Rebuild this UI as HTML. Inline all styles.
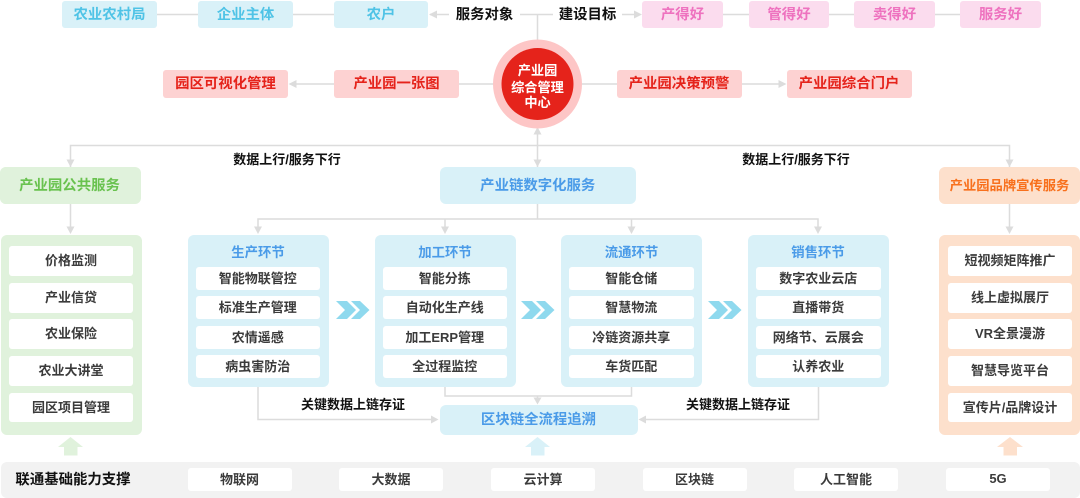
<!DOCTYPE html>
<html lang="zh">
<head>
<meta charset="utf-8">
<title>产业园综合管理中心</title>
<style>
html,body{margin:0;padding:0;background:#fff}
#p{position:relative;width:1080px;height:498px;overflow:hidden;background:#fff;font-family:"Liberation Sans","Noto Sans CJK SC",sans-serif;font-weight:700}
#p div{position:absolute;display:flex;align-items:center;justify-content:center;white-space:nowrap;box-sizing:border-box;padding-bottom:2px}
svg{position:absolute;left:0;top:0}
.c{background:#d9f1f8;color:#4fc3e6;font-size:14.4px;border-radius:3px;top:1px;height:27px}
.k{background:#fbdcee;color:#ee72bf;font-size:14.4px;border-radius:3px;top:1px;height:27px}
.r{background:#fdd2d2;color:#e5231b;font-size:14.4px;border-radius:3px;top:69.5px;height:28px;width:125px}
.l{color:#111;font-size:14.4px}
.m{color:#111;font-size:13px}
.h{top:167px;height:37px;border-radius:6px;font-size:14.4px}
.g{background:#e0f2dc}
.o{background:#fde0cc}
.s{background:#d9f1f8}
.w{background:#fff;color:#3b3b3b;font-size:13px;border-radius:3px}
.a{width:124px;height:29.5px}
.i{width:124.5px;height:22.5px}
.t{color:#4a9be8;font-size:13.4px;top:242px;height:19px;width:141px}
.f{top:467.5px;height:23px;width:104px;font-size:13px;background:#fff;color:#3b3b3b;border-radius:3px}
</style>
</head>
<body>
<div id="p">
<svg width="1080" height="498" viewBox="0 0 1080 498">
<g fill="none" stroke="#dcdcdc" stroke-width="1.5">
<path d="M157 14.5H198M293 14.5H334M430 14.5H449M520 14.5H553M622 14.5H635M723 14.5H749M829 14.5H854M935 14.5H960"/>
<path d="M537.5 14.5V40"/>
<path d="M296 84H334M459 84H494M582 84H617M741 84H780"/>
<path d="M70.5 167V145.5H1009.5V167M537.5 128V167"/>
<path d="M70.5 204V228M1009.5 204V228"/>
<path d="M537.5 204V219M258 228V219H818V228M445 219V228M631.5 219V228"/>
<path d="M258 387V419.5H432M818.5 387V419.5H646"/>
<path d="M445 387V396H631.5V387M537.5 396V399"/>
</g>
<g fill="#dcdcdc">
<path d="M429 14.5L437 10.5V18.5Z"/>
<path d="M642 14.5L634 10.5V18.5Z"/>
<path d="M288.5 84L296.5 80V88Z"/>
<path d="M786.5 84L778.5 80V88Z"/>
<path d="M70.5 167L66.5 159.5H74.5Z"/>
<path d="M1009.5 167L1005.5 159.5H1013.5Z"/>
<path d="M537.5 167L533.5 159.5H541.5Z"/>
<path d="M537.5 127L533.5 134.5H541.5Z"/>
<path d="M70.5 234L66.5 226.5H74.5Z"/>
<path d="M1009.5 234L1005.5 226.5H1013.5Z"/>
<path d="M258 234L254 226.5H262Z"/>
<path d="M445 234L441 226.5H449Z"/>
<path d="M631.5 234L627.5 226.5H635.5Z"/>
<path d="M818 234L814 226.5H822Z"/>
<path d="M438.5 419.5L431 415.5V423.5Z"/>
<path d="M638.5 419.5L646 415.5V423.5Z"/>
<path d="M537.5 404.5L533.5 397.5H541.5Z"/>
</g>
<circle cx="537.5" cy="84" r="44.5" fill="#fdc6c6"/>
<circle cx="537.5" cy="84" r="36" fill="#e5231b"/>
<g fill="#8fd9ee">
<path d="M336 301H347L356 310L347 319H336L345 310Z"/>
<path d="M351 301H360L369.5 310L360 319H351L360 310Z"/>
<path d="M521 301H532L541 310L532 319H521L530 310Z"/>
<path d="M536 301H545L554.5 310L545 319H536L545 310Z"/>
<path d="M708 301H719L728 310L719 319H708L717 310Z"/>
<path d="M723 301H732L741.5 310L732 319H723L732 310Z"/>
</g>
<path d="M70.5 437L83 447H77.5V455.5H64V447H58Z" fill="#e0f2dc"/>
<path d="M537.5 437L550 447H544.5V455.5H531V447H525Z" fill="#d9f1f8"/>
<path d="M1010 437L1023 447H1017V455.5H1003.5V447H997Z" fill="#fde0cc"/>
</svg>

<div class="c" style="left:62px;width:95px">农业农村局</div>
<div class="c" style="left:198px;width:95px">企业主体</div>
<div class="c" style="left:334px;width:94px">农户</div>
<div class="l" style="left:449px;top:4px;width:71px;height:20px">服务对象</div>
<div class="l" style="left:553px;top:4px;width:69px;height:20px">建设目标</div>
<div class="k" style="left:642px;width:81px">产得好</div>
<div class="k" style="left:749px;width:80px">管得好</div>
<div class="k" style="left:854px;width:81px">卖得好</div>
<div class="k" style="left:960px;width:81px">服务好</div>

<div class="r" style="left:163px">园区可视化管理</div>
<div class="r" style="left:334px">产业园一张图</div>
<div class="r" style="left:616.5px">产业园决策预警</div>
<div class="r" style="left:786.5px">产业园综合门户</div>

<div style="left:497px;top:62px;width:81px;height:17px;color:#fff;font-size:13.2px">产业园</div>
<div style="left:497px;top:78.5px;width:81px;height:17px;color:#fff;font-size:13.2px">综合管理</div>
<div style="left:497px;top:94px;width:81px;height:17px;color:#fff;font-size:13.2px">中心</div>

<div class="m" style="left:223px;top:150px;width:128px;height:18px">数据上行/服务下行</div>
<div class="m" style="left:732px;top:150px;width:128px;height:18px">数据上行/服务下行</div>

<div class="h g" style="left:0;width:139px;color:#69c24f"></div>
<div class="h g" style="left:0;width:141px;color:#69c24f;padding-right:2px">产业园公共服务</div>
<div class="h s" style="left:439.5px;width:196.5px;color:#4a9be8">产业链数字化服务</div>
<div class="h o" style="left:939px;width:141px;color:#f8701c;font-size:13.3px">产业园品牌宣传服务</div>

<div class="g" style="left:1px;top:234.5px;width:141px;height:200px;border-radius:6px"></div>
<div class="w a" style="left:9px;top:246px">价格监测</div>
<div class="w a" style="left:9px;top:283px">产业信贷</div>
<div class="w a" style="left:9px;top:319px">农业保险</div>
<div class="w a" style="left:9px;top:356px">农业大讲堂</div>
<div class="w a" style="left:9px;top:392.5px">园区项目管理</div>

<div class="o" style="left:939px;top:234.5px;width:141px;height:200px;border-radius:6px"></div>
<div class="w a" style="left:948px;top:246px">短视频矩阵推广</div>
<div class="w a" style="left:948px;top:283px">线上虚拟展厅</div>
<div class="w a" style="left:948px;top:319px">VR全景漫游</div>
<div class="w a" style="left:948px;top:356px">智慧导览平台</div>
<div class="w a" style="left:948px;top:392.5px">宣传片/品牌设计</div>

<div class="s" style="left:187.5px;top:234.5px;width:141px;height:152px;border-radius:6px"></div>
<div class="t" style="left:187.5px">生产环节</div>
<div class="w i" style="left:195.5px;top:267px">智能物联管控</div>
<div class="w i" style="left:195.5px;top:296px">标准生产管理</div>
<div class="w i" style="left:195.5px;top:326px">农情遥感</div>
<div class="w i" style="left:195.5px;top:355px">病虫害防治</div>

<div class="s" style="left:374.5px;top:234.5px;width:141px;height:152px;border-radius:6px"></div>
<div class="t" style="left:374.5px">加工环节</div>
<div class="w i" style="left:382.5px;top:267px">智能分拣</div>
<div class="w i" style="left:382.5px;top:296px">自动化生产线</div>
<div class="w i" style="left:382.5px;top:326px">加工ERP管理</div>
<div class="w i" style="left:382.5px;top:355px">全过程监控</div>

<div class="s" style="left:561px;top:234.5px;width:141px;height:152px;border-radius:6px"></div>
<div class="t" style="left:561px">流通环节</div>
<div class="w i" style="left:569px;top:267px">智能仓储</div>
<div class="w i" style="left:569px;top:296px">智慧物流</div>
<div class="w i" style="left:569px;top:326px">冷链资源共享</div>
<div class="w i" style="left:569px;top:355px">车货匹配</div>

<div class="s" style="left:747.5px;top:234.5px;width:141px;height:152px;border-radius:6px"></div>
<div class="t" style="left:747.5px">销售环节</div>
<div class="w i" style="left:756px;top:267px">数字农业云店</div>
<div class="w i" style="left:756px;top:296px">直播带货</div>
<div class="w i" style="left:756px;top:326px">网络节、云展会</div>
<div class="w i" style="left:756px;top:355px">认养农业</div>

<div class="m" style="left:293px;top:395px;width:120px;height:18px">关键数据上链存证</div>
<div class="m" style="left:678px;top:395px;width:120px;height:18px">关键数据上链存证</div>
<div class="s" style="left:439.5px;top:404.5px;width:198px;height:30px;border-radius:6px;color:#4a9be8;font-size:14.4px">区块链全流程追溯</div>

<div style="left:1px;top:461.5px;width:1079px;height:36.5px;background:#f2f2f2;border-radius:6px"></div>
<div class="l" style="left:15px;top:469px;width:116px;height:20px">联通基础能力支撑</div>
<div class="f" style="left:187.5px">物联网</div>
<div class="f" style="left:339px">大数据</div>
<div class="f" style="left:491px">云计算</div>
<div class="f" style="left:642.5px">区块链</div>
<div class="f" style="left:794px">人工智能</div>
<div class="f" style="left:946px">5G</div>
</div>
</body>
</html>
